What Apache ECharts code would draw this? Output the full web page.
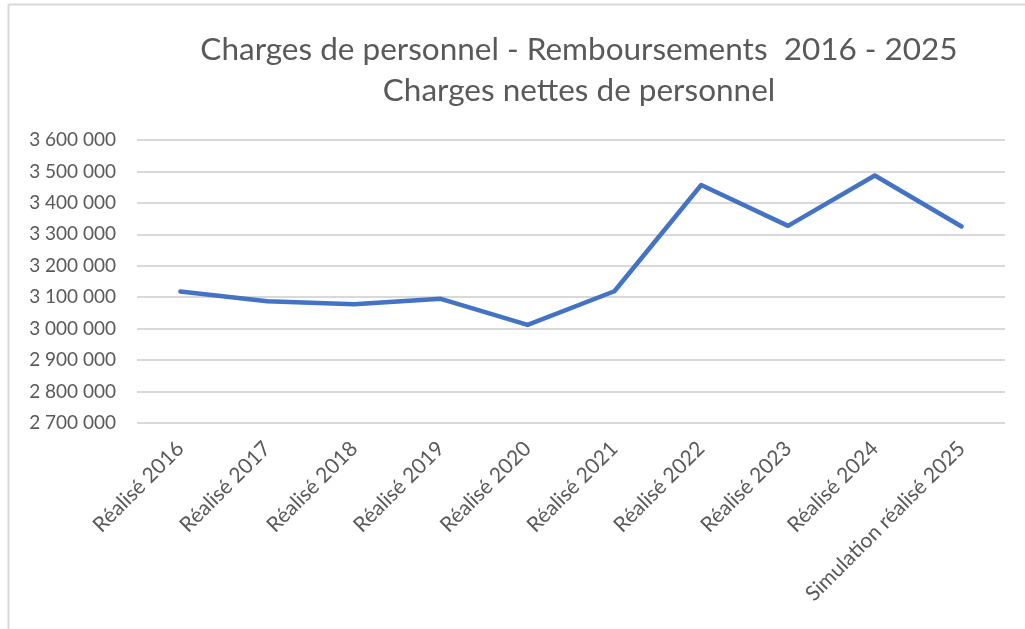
<!DOCTYPE html>
<html><head><meta charset="utf-8">
<script src="https://cdn.jsdelivr.net/npm/echarts@6/dist/echarts.min.js"></script>
<style>html,body{margin:0;padding:0;background:#fff}#c{width:1025px;height:629px}</style>
</head><body><div id="c"></div>
<script>
const categories = ['Réalisé 2016','Réalisé 2017','Réalisé 2018','Réalisé 2019','Réalisé 2020','Réalisé 2021','Réalisé 2022','Réalisé 2023','Réalisé 2024','Simulation réalisé 2025'];
const netCharges = [3118000, 3087000, 3078000, 3095000, 3012000, 3119000, 3457000, 3327000, 3487000, 3325000];
const titleLines = ['Charges de personnel - Remboursements  2016 - 2025', 'Charges nettes de personnel'];
const yMin = 2700000, yMax = 3600000, yStep = 100000;

const FONT = 'Lato, "Open Sans", sans-serif';
const chart = echarts.init(document.getElementById('c'), null, {renderer:'canvas'});
function fmt(v){ return String(v).replace(/\B(?=(\d{3})+(?!\d))/g, ' '); }
chart.setOption({
  animation:false,
  backgroundColor:'#fff',
  title:{
    text: titleLines.join('\n'),
    left: 574, top: 24, textAlign:'center',
    textStyle:{fontFamily:FONT, fontSize:31.5, fontWeight:'normal', color:'#595959', lineHeight:41}
  },
  grid:{left:137, right:20, top:140, bottom:206, containLabel:false},
  xAxis:{
    type:'category', data:categories, boundaryGap:true,
    axisLine:{show:false}, axisTick:{show:false},
    axisLabel:{rotate:45, margin:22, color:'#595959', fontFamily:FONT, fontSize:21, interval:0}
  },
  yAxis:{
    type:'value', min:yMin, max:yMax, interval:yStep,
    axisLine:{show:false}, axisTick:{show:false},
    splitLine:{lineStyle:{color:'#d9d9d9', width:2}},
    axisLabel:{formatter:fmt, color:'#595959', fontFamily:FONT, fontSize:19, margin:21}
  },
  series:[{
    type:'line', data:netCharges, symbol:'none',
    lineStyle:{color:'#4472C4', width:4.5, cap:'round', join:'round'}
  }],
  graphic:[
    {type:'line', shape:{x1:8.5, y1:4.5, x2:1025, y2:4.5}, style:{stroke:'#d9d9d9', lineWidth:2}},
    {type:'line', shape:{x1:8.5, y1:4.5, x2:8.5, y2:629}, style:{stroke:'#d9d9d9', lineWidth:2}}
  ]
});
</script></body></html>
